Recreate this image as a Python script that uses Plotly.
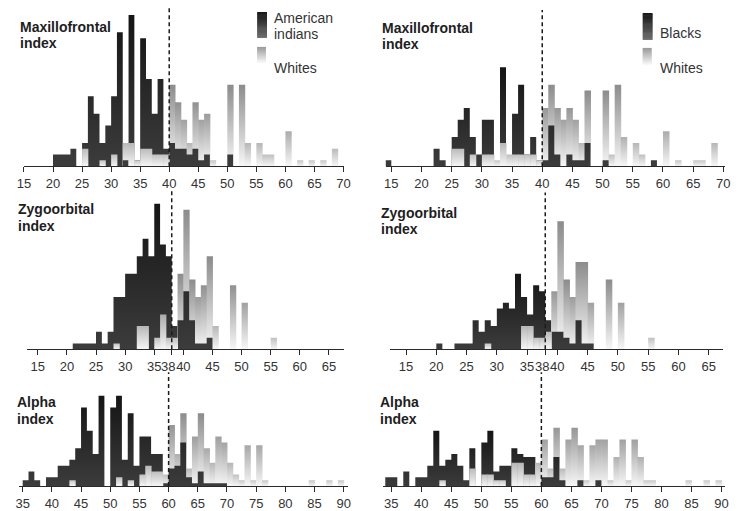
import plotly.graph_objects as go

W, H = 740, 511
UNIT = 5.83  # px per count unit (no y axis is shown)

# ---------------- data ----------------
MF_CUT, ZY_CUT, AL_CUT = 40, 38, 60

mf_bins = list(range(14, 70))   # bin left edges, width 1
zy_bins = list(range(20, 57))
al_bins = list(range(34, 90))

mf_ticks = [15, 20, 25, 30, 35, 40, 45, 50, 55, 60, 65, 70]
zy_ticks = [15, 20, 25, 30, 35, 38, 40, 45, 50, 55, 60, 65]
al_ticks = [35, 40, 45, 50, 55, 60, 65, 70, 75, 80, 85, 90]

mf_indians = [0, 0, 0, 0, 0, 0,
              2, 2, 2, 3, 0, 4, 12, 9, 4, 7,
              12, 23, 1, 26, 1, 22, 15, 9, 15, 3,
              4, 3, 3, 2, 3, 1, 2, 0, 0, 0,
              2, 0, 0, 0, 0, 0, 0, 0, 0, 0,
              0, 0, 0, 0, 0, 0, 0, 0, 0, 0]
mf_whites_l = [0, 0, 0, 0, 0, 0,
               0, 0, 0, 0, 0, 3, 0, 0, 1, 0,
               2, 0, 4, 4, 1, 3, 3, 2, 2, 2,
               14, 11, 8, 4, 11, 8, 9, 1, 0, 0,
               14, 0, 14, 4, 0, 4, 2, 2, 0, 0,
               6, 0, 1, 0, 1, 0, 1, 0, 3, 0]
mf_blacks = [1, 0, 0, 0, 0, 0,
             0, 0, 3, 1, 0, 5, 8, 10, 5, 2,
             8, 8, 0, 17, 0, 9, 14, 2, 5, 1,
             1, 7, 2, 0, 2, 1, 1, 4, 0, 0,
             1, 0, 0, 0, 0, 0, 0, 0, 1, 0,
             0, 0, 0, 0, 0, 0, 0, 0, 0, 0]
mf_whites_r = [0, 0, 0, 0, 0, 0,
               0, 0, 0, 0, 0, 3, 3, 0, 2, 0,
               2, 2, 1, 4, 2, 2, 2, 2, 2, 1,
               10, 14, 10, 8, 10, 8, 4, 13, 0, 0,
               13, 2, 14, 5, 0, 4, 2, 0, 0, 0,
               6, 0, 1, 0, 0, 1, 1, 0, 4, 0]

zy_indians = [0, 1, 1, 1, 1, 3, 1, 3, 9, 9,
              13, 13, 16, 19, 16, 25, 18, 16, 4, 5,
              10, 5, 1, 1, 2, 0, 0, 0, 0, 0,
              0, 0, 0, 0, 0, 0, 0]
zy_whites_l = [0, 0, 0, 0, 0, 0, 0, 0, 1, 0,
               0, 0, 4, 4, 0, 2, 6, 2, 2, 13,
               24, 12, 9, 11, 16, 4, 0, 0, 11, 0,
               8, 0, 0, 0, 0, 2, 0]
zy_blacks = [1, 0, 0, 1, 1, 1, 5, 3, 5, 4,
             7, 8, 7, 13, 9, 6, 11, 10, 5, 3,
             3, 2, 1, 5, 1, 1, 0, 0, 0, 0,
             0, 0, 0, 0, 0, 0, 0]
zy_whites_r = [0, 0, 0, 0, 0, 0, 0, 0, 1, 0,
               0, 0, 0, 0, 4, 4, 2, 2, 3, 10,
               22, 12, 9, 15, 15, 8, 0, 0, 12, 0,
               8, 0, 0, 0, 0, 2, 0]

al_indians = [0, 1, 2.5, 1, 0, 1.5,
              1.5, 3.5, 3.5, 4.5, 6.5, 13.5, 9.5, 5.5, 15.5, 0,
              13.5, 15.5, 4.5, 12.5, 3.5, 8.5, 8.5, 5.5, 5.5, 0.5,
              3, 3.5, 7.5, 1.5, 0.5, 2.5, 0.5, 0.5, 0.5, 0.5,
              0, 0, 0, 0, 0, 0, 0, 0, 0, 0,
              0, 0, 0, 0, 0, 0, 0, 0, 0, 0]
al_whites_l = [0, 0, 0, 0, 0, 0,
               0, 0, 0, 1, 0, 0, 0, 0, 0, 0,
               0, 1.5, 0, 1, 0, 2, 3.5, 2.5, 2.5, 2,
               10.5, 5.5, 12.5, 3, 8.5, 12.5, 6.5, 4, 8.5, 7.5,
               4, 2, 1, 7, 1, 7, 1, 0, 0, 0,
               0, 0, 0, 0, 1, 0, 0, 1, 0, 1]
al_blacks = [1.5, 1.5, 0, 2.5, 0, 1.5,
             1.5, 3.5, 9.5, 3.5, 4.5, 5.5, 3.5, 1, 6.5, 0,
             7.5, 9.5, 2.5, 3.5, 3.5, 6.5, 5.5, 5, 5, 0,
             1.5, 1.5, 5, 1, 0, 0, 1, 0, 0, 1,
             0, 0, 0, 0, 0, 0, 0, 0, 0, 0,
             0, 0, 0, 0, 0, 0, 0, 0, 0, 0]
al_whites_r = [0, 0, 0, 0, 0, 0,
               0, 0, 0, 1, 0, 0, 0, 0, 3, 0,
               2, 2, 1, 1, 0, 4, 4, 2, 2, 4,
               8, 3, 10, 3, 8, 10, 7, 1, 7, 8,
               8, 1, 5, 8, 1, 8, 5, 1, 1, 0,
               0, 0, 0, 0, 1, 0, 0, 1, 0, 1]

# ---------------- layout helpers ----------------
def pxx(p):
    return p / W


def pxy(p):
    return 1 - p / H


panels = [
    dict(bins=mf_bins, a=mf_indians, w=mf_whites_l, xd=(17.3, 343), xr=(15, 70),
         base=166.5, top=5, ticks=mf_ticks, cut=MF_CUT, dash=(7, 166.5)),
    dict(bins=mf_bins, a=mf_blacks, w=mf_whites_r, xd=(386, 732), xr=(14.07, 70.3),
         base=166.5, top=5, ticks=mf_ticks, cut=MF_CUT, dash=(10, 166.5)),
    dict(bins=zy_bins, a=zy_indians, w=zy_whites_l, xd=(20.7, 343), xr=(13.2, 67.5),
         base=350, top=190, ticks=zy_ticks, cut=ZY_CUT, dash=(190, 350)),
    dict(bins=zy_bins, a=zy_blacks, w=zy_whites_r, xd=(390.7, 730), xr=(12.4, 67.4),
         base=350, top=190, ticks=zy_ticks, cut=ZY_CUT, dash=(193, 350)),
    dict(bins=al_bins, a=al_indians, w=al_whites_l, xd=(12.7, 348), xr=(34.45, 90.8),
         base=487, top=380, ticks=al_ticks, cut=AL_CUT, dash=(373, 487)),
    dict(bins=al_bins, a=al_blacks, w=al_whites_r, xd=(383, 731.7), xr=(33.58, 90.56),
         base=487, top=380, ticks=al_ticks, cut=AL_CUT, dash=(373, 487)),
]

for p in panels:
    assert len(p["a"]) == len(p["bins"]) == len(p["w"])


def step_poly(bins, vals):
    xs, ys = [bins[0]], [0]
    for b, v in zip(bins, vals):
        xs += [b, b + 1]
        ys += [v, v]
    xs += [bins[-1] + 1, bins[0]]
    ys += [0, 0]
    return xs, ys


def white_top(h):
    g = int(round(0xCC - (0xCC - 0x8C) * min(h / 12.0, 1.0)))
    return f"rgb({g},{g},{g})"


fig = go.Figure()
shapes = []
annotations = []
FAM = "Liberation Sans, Arial, sans-serif"
TICKFONT = dict(family=FAM, size=13, color="#333")
SEAM = 0.08  # tiny overlap so neighbouring bars leave no anti-aliasing seam

for i, p in enumerate(panels):
    n = i + 1
    xid = "x" if n == 1 else f"x{n}"
    yid = "y" if n == 1 else f"y{n}"
    A, Wh, bins = p["a"], p["w"], p["bins"]
    back_a = [a if a >= w else 0 for a, w in zip(A, Wh)]
    front_a = [a if a < w else 0 for a, w in zip(A, Wh)]
    dark_grad = dict(type="vertical", colorscale=[[0, "#3c3c3c"], [1, "#151515"]],
                     start=0, stop=max(A))

    def add_dark(vals):
        xs, ys = step_poly(bins, vals)
        fig.add_trace(go.Scatter(x=xs, y=ys, mode="lines", fill="toself",
                                 line=dict(width=0, color="rgba(0,0,0,0)"),
                                 fillgradient=dark_grad, hoverinfo="skip",
                                 showlegend=False, xaxis=xid, yaxis=yid))

    def add_whites(front):
        for b, a, w in zip(bins, A, Wh):
            if w <= 0:
                continue
            if front != (w <= a):
                continue
            fig.add_trace(go.Scatter(
                x=[b, b, b + 1 + SEAM, b + 1 + SEAM, b], y=[0, w, w, 0, 0], mode="lines",
                fill="toself", line=dict(width=0, color="rgba(0,0,0,0)"),
                fillgradient=dict(type="vertical",
                                  colorscale=[[0, "#f7f7f7"], [1, white_top(w)]],
                                  start=0, stop=w),
                hoverinfo="skip", showlegend=False, xaxis=xid, yaxis=yid))

    add_dark(back_a)
    add_whites(front=False)
    add_dark(front_a)
    add_whites(front=True)

    # the cut value gets its own label (nudged left, as in the original) when it
    # would otherwise collide with its neighbour
    crowded = p["cut"] % 5 != 0
    ticktext = [("" if (crowded and t == p["cut"]) else str(t)) for t in p["ticks"]]
    if crowded:
        annotations.append(dict(text=str(p["cut"]), xref=xid, yref="paper", x=p["cut"],
                                y=pxy(p["base"] + 17), xanchor="center", yanchor="middle",
                                xshift=-3.5, showarrow=False, font=TICKFONT))

    yr = (p["base"] - p["top"]) / UNIT
    fig.update_layout(**{
        ("xaxis" if n == 1 else f"xaxis{n}"): dict(
            domain=[pxx(p["xd"][0]), pxx(p["xd"][1])], range=list(p["xr"]),
            anchor=yid, showline=True, linecolor="#2a2a2a", linewidth=1.3,
            ticks="outside", ticklen=5, tickwidth=1.3, tickcolor="#2a2a2a",
            tickmode="array", tickvals=p["ticks"], ticktext=ticktext,
            tickangle=0, showgrid=False, zeroline=False, tickfont=TICKFONT,
            fixedrange=True),
        ("yaxis" if n == 1 else f"yaxis{n}"): dict(
            domain=[pxy(p["base"]), pxy(p["top"])], range=[0, yr], anchor=xid,
            visible=False, fixedrange=True),
    })
    shapes.append(dict(type="line", xref=xid, yref="paper", x0=p["cut"], x1=p["cut"],
                       y0=pxy(p["dash"][1]), y1=pxy(p["dash"][0]),
                       line=dict(color="#1a1a1a", width=1.5, dash="4px,3px")))


def hexgray(v):
    v = int(round(v))
    return f"rgb({v},{v},{v})"


def swatch(x0, x1, y0, y1, top, bot, n=24):
    for k in range(n):
        t = (k + 0.5) / n
        c = hexgray(top + (bot - top) * t)
        ya = y0 + (y1 - y0) * k / n
        yb = y0 + (y1 - y0) * (k + 1) / n + 0.6
        shapes.append(dict(type="rect", xref="paper", yref="paper",
                           x0=pxx(x0), x1=pxx(x1), y0=pxy(min(yb, y1)), y1=pxy(ya),
                           fillcolor=c, line=dict(width=0), layer="above"))


swatch(255, 265, 12, 38, 0x14, 0x70)
swatch(255, 264, 47, 63, 0x98, 0xFA)
swatch(648, 658, 13, 40, 0x14, 0x70)
swatch(648, 657, 48, 65, 0x98, 0xFA)

BOLD = dict(family=FAM, size=14, color="#1e1e1e")
REG = dict(family=FAM, size=14, color="#333")


def label(text, x, y, bold=True):
    annotations.append(dict(text=f"<b>{text}</b>" if bold else text, xref="paper",
                            yref="paper", x=pxx(x), y=pxy(y), xanchor="left",
                            yanchor="middle", showarrow=False,
                            font=BOLD if bold else REG))


label("Maxillofrontal", 11, 27)
label("index", 11, 43)
label("Maxillofrontal", 380.5, 28)
label("index", 380.5, 44)
label("Zygoorbital", 9.5, 209.5)
label("index", 9.5, 226)
label("Zygoorbital", 379.5, 213)
label("index", 379.5, 229.5)
label("Alpha", 8.5, 403)
label("index", 8.5, 420)
label("Alpha", 378.5, 403)
label("index", 378.5, 420)

label("American", 270.5, 18, bold=False)
label("indians", 270.5, 34, bold=False)
label("Whites", 270.5, 68, bold=False)
label("Blacks", 663.5, 33, bold=False)
label("Whites", 663.5, 68, bold=False)

fig.update_layout(width=W, height=H, autosize=False,
                  margin=dict(l=0, r=0, t=0, b=0),
                  paper_bgcolor="white", plot_bgcolor="rgba(0,0,0,0)",
                  shapes=shapes, annotations=annotations, showlegend=False)

fig.write_html(
    "out.html",
    config={"responsive": False, "displayModeBar": False},
    post_script="document.body.style.margin='0';document.body.style.overflow='hidden';",
)
